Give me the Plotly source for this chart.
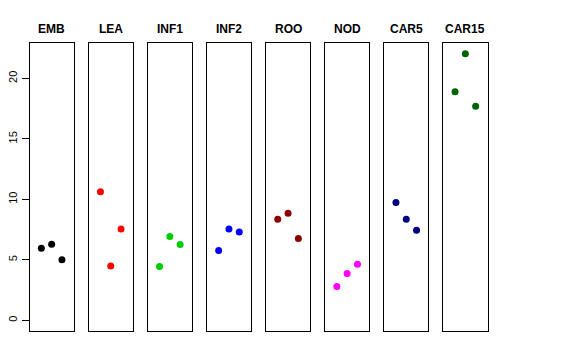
import plotly.graph_objects as go

categories = ["EMB", "LEA", "INF1", "INF2", "ROO", "NOD", "CAR5", "CAR15"]
replicates = [1, 2, 3]
emb = [5.97, 6.30, 5.00]
lea = [10.64, 4.50, 7.56]
inf1 = [4.45, 6.93, 6.27]
inf2 = [5.77, 7.56, 7.31]
roo = [8.36, 8.86, 6.76]
nod = [2.79, 3.87, 4.64]
car5 = [9.74, 8.36, 7.45]
car15 = [18.91, 22.05, 17.70]
series = [emb, lea, inf1, inf2, roo, nod, car5, car15]
colors = ["#000000", "#FF0000", "#00CD00", "#0000FF", "#8B0000", "#FF00FF", "#000080", "#006400"]
y_ticks = [0, 5, 10, 15, 20]

W, H = 576, 360
OFF = 8  # page body margin
left0, pw, gap = 29.5 - OFF, 44.3, 14.8
top_px, bot_px = 43 - OFF, 331 - OFF
title_px = 29 - OFF

fig = go.Figure()
ymax = max(max(s) for s in series)
yr = [-0.04 * ymax, ymax * 1.04]

for i, (cat, vals, col) in enumerate(zip(categories, series, colors)):
    n = i + 1
    xa = "x" if n == 1 else f"x{n}"
    ya = "y" if n == 1 else f"y{n}"
    fig.add_trace(go.Scatter(x=replicates, y=vals, mode="markers",
                             marker=dict(color=col, size=7),
                             xaxis=xa, yaxis=ya, showlegend=False))
    x0 = (left0 + i * (pw + gap)) / W
    x1 = x0 + pw / W
    dom_y = [(H - bot_px) / H, (H - top_px) / H]
    xkey = "xaxis" if n == 1 else f"xaxis{n}"
    ykey = "yaxis" if n == 1 else f"yaxis{n}"
    fig.layout[xkey] = dict(domain=[x0, x1], range=[-0.15, 4.15], showticklabels=False,
                            ticks="", showgrid=False, zeroline=False,
                            showline=True, linecolor="black", linewidth=1, mirror=True,
                            anchor=ya, fixedrange=True)
    yd = dict(domain=dom_y, range=yr, showgrid=False, zeroline=False,
              showline=True, linecolor="black", linewidth=1, mirror=True,
              anchor=xa, fixedrange=True)
    if n == 1:
        yd.update(tickvals=y_ticks, ticks="outside", ticklen=7, tickcolor="black",
                  tickangle=-90, tickfont=dict(family="Liberation Sans", size=11, color="black"))
    else:
        yd.update(showticklabels=False, ticks="")
    fig.layout[ykey] = yd
    fig.add_annotation(text=f"<b>{cat}</b>", x=(x0 + x1) / 2, y=(H - title_px) / H,
                       xref="paper", yref="paper", showarrow=False,
                       font=dict(family="Liberation Sans", size=12, color="black"),
                       xanchor="center", yanchor="middle")

fig.update_layout(width=W, height=H, margin=dict(l=0, r=0, t=0, b=0),
                  paper_bgcolor="white", plot_bgcolor="white")
fig.write_html("out.html")
